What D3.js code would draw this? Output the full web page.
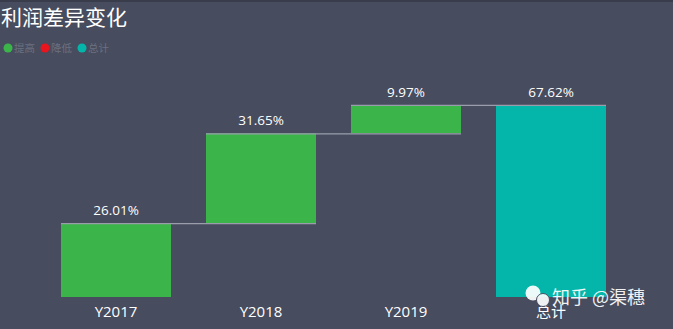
<!DOCTYPE html>
<html>
<head>
<meta charset="utf-8">
<script src="https://cdn.jsdelivr.net/npm/d3@7"></script>
<style>
  html, body { margin: 0; padding: 0; background: #474c5e; }
  svg { display: block; }
  text { font-family: "Open Sans", "Noto Sans CJK SC", "Noto Sans", sans-serif; }
</style>
</head>
<body>
<script>
// Profit change per year plus the total, in percent
const categories = ["Y2017", "Y2018", "Y2019", "总计"];
const changes = [26.01, 31.65, 9.97];
const total = 67.62;
const legendLabels = ["提高", "降低", "总计"];
const legendColors = ["#3bb54a", "#e8141e", "#04b6aa"];

const W = 673, H = 329;
const svg = d3.select("body").append("svg").attr("width", W).attr("height", H);

svg.append("rect").attr("width", W).attr("height", H).attr("fill", "#474c5e");
svg.append("rect").attr("width", W).attr("height", 2).attr("fill", "#383c4b");

// Waterfall segments: start/end for each step, total spans from zero
let run = 0;
const segs = changes.map((v, i) => {
  const s = { cat: categories[i], start: run, end: run + v, value: v, type: v >= 0 ? 0 : 1 };
  run += v;
  return s;
});
segs.push({ cat: categories[3], start: 0, end: total, value: total, type: 2 });

const x = d3.scaleBand().domain(categories).range([61, 606]).paddingInner(35 / 145).paddingOuter(0);
const y = d3.scaleLinear().domain([0, total]).range([297, 105]);

// Bars
svg.append("g").selectAll("rect").data(segs).join("rect")
  .attr("x", d => x(d.cat))
  .attr("width", x.bandwidth())
  .attr("y", d => y(Math.max(d.start, d.end)))
  .attr("height", d => Math.abs(y(d.start) - y(d.end)))
  .attr("fill", d => legendColors[d.type]);

// Connector lines between consecutive bars
svg.append("g").selectAll("line").data(segs.slice(0, -1)).join("line")
  .attr("x1", d => x(d.cat))
  .attr("x2", (d, i) => x(segs[i + 1].cat) + x.bandwidth())
  .attr("y1", d => y(d.end) + 0.5)
  .attr("y2", d => y(d.end) + 0.5)
  .attr("stroke", "#9a9dab")
  .attr("stroke-width", 1.2);

// Value labels
svg.append("g").selectAll("text").data(segs).join("text")
  .attr("x", d => x(d.cat) + x.bandwidth() / 2)
  .attr("y", d => y(Math.max(d.start, d.end)) - 8)
  .attr("text-anchor", "middle")
  .attr("fill", "#ffffff")
  .attr("font-size", 13.5)
  .text(d => d.value.toFixed(2) + "%");

// Category axis (labels only)
const xAxis = svg.append("g").attr("transform", "translate(0,297)")
  .call(d3.axisBottom(x).tickSize(0).tickPadding(9));
xAxis.select(".domain").remove();
xAxis.selectAll("text").attr("fill", "#ffffff").attr("font-size", 15)
  .style("font-family", "'Open Sans', 'Noto Sans CJK SC', sans-serif");

// Title
svg.append("text").attr("x", 1).attr("y", 25).attr("fill", "#ffffff")
  .attr("font-size", 21)
  .style("font-family", "'Noto Sans CJK SC', sans-serif")
  .text("利润差异变化");

// Legend
const lg = svg.append("g").selectAll("g").data(legendLabels).join("g")
  .attr("transform", (d, i) => `translate(${8 + i * 37},48)`);
lg.append("circle").attr("r", 4.5).attr("fill", (d, i) => legendColors[i]);
lg.append("text").attr("x", 6).attr("y", 4).attr("fill", "#6b7080")
  .attr("font-size", 10.5)
  .style("font-family", "'Noto Sans CJK SC', sans-serif")
  .text(d => d);

// Watermark
const wm = svg.append("g").attr("opacity", 0.92);
wm.append("circle").attr("cx", 533).attr("cy", 293).attr("r", 7.5).attr("fill", "#ffffff");
wm.append("circle").attr("cx", 543).attr("cy", 300).attr("r", 6.5).attr("fill", "#ffffff").attr("stroke", "#474c5e").attr("stroke-width", 1);
wm.append("text").attr("x", 552).attr("y", 304).attr("fill", "#ffffff").attr("font-size", 18)
  .style("font-family", "'Noto Sans CJK SC', sans-serif")
  .text("知乎 @渠穗");
</script>
</body>
</html>
